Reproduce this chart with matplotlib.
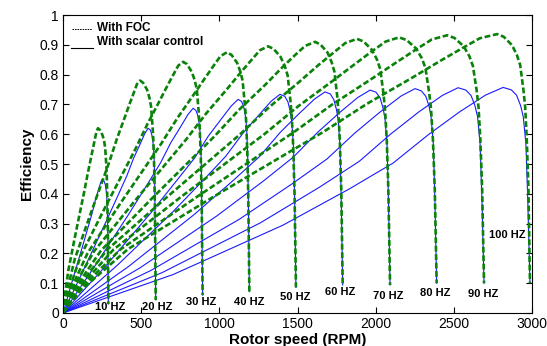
import matplotlib
matplotlib.use("Agg")
import matplotlib.pyplot as plt
from matplotlib.lines import Line2D

plt.rcParams['font.family'] = ['Liberation Sans', 'DejaVu Sans']

# supply frequencies (Hz)
freqs = [10, 20, 30, 40, 50, 60, 70, 80, 90, 100]

# scalar control curves: rotor speed (rpm) / efficiency
sc_rpm = [
    [0, 62, 125, 162, 187, 207, 224, 239, 249, 261, 270, 276, 280, 284, 288, 290],
    [0, 136, 272, 354, 408, 452, 490, 522, 544, 559, 568, 576, 581, 586, 589, 593],
    [0, 208, 416, 541, 624, 691, 749, 799, 832, 850, 862, 872, 878, 884, 888, 893],
    [0, 280, 560, 728, 840, 930, 1008, 1075, 1120, 1142, 1156, 1167, 1174, 1181, 1186, 1192],
    [0, 347, 694, 902, 1041, 1152, 1249, 1332, 1388, 1419, 1439, 1454, 1464, 1475, 1482, 1490],
    [0, 419, 838, 1089, 1257, 1391, 1508, 1609, 1676, 1710, 1732, 1749, 1761, 1772, 1780, 1789],
    [0, 491, 982, 1277, 1473, 1630, 1768, 1885, 1964, 2002, 2028, 2047, 2060, 2073, 2082, 2092],
    [0, 563, 1126, 1464, 1689, 1869, 2027, 2162, 2252, 2293, 2321, 2342, 2355, 2369, 2379, 2390],
    [0, 632, 1264, 1643, 1895, 2097, 2274, 2426, 2527, 2577, 2610, 2635, 2652, 2668, 2680, 2693],
    [0, 704, 1408, 1830, 2111, 2336, 2534, 2702, 2815, 2867, 2901, 2927, 2944, 2961, 2973, 2987],
]
sc_eff = [
    [0, .112, .224, .291, .336, .379, .408, .435, .448, .444, .432, .412, .390, .336, .224, .030],
    [0, .150, .303, .397, .460, .520, .563, .601, .620, .614, .598, .570, .539, .465, .310, .044],
    [0, .161, .328, .433, .504, .573, .622, .666, .687, .680, .663, .632, .598, .515, .344, .060],
    [0, .162, .335, .445, .519, .594, .648, .694, .717, .710, .692, .660, .624, .538, .359, .072],
    [0, .160, .335, .448, .526, .604, .662, .711, .734, .727, .708, .675, .639, .551, .367, .086],
    [0, .156, .330, .445, .525, .607, .668, .718, .742, .735, .716, .683, .646, .557, .371, .094],
    [0, .151, .325, .441, .523, .607, .672, .723, .748, .741, .722, .688, .651, .561, .374, .094],
    [0, .143, .314, .433, .517, .605, .674, .728, .753, .745, .727, .693, .655, .565, .377, .100],
    [0, .135, .303, .423, .509, .601, .674, .730, .756, .748, .730, .696, .658, .567, .378, .100],
    [0, .129, .295, .416, .503, .598, .674, .731, .757, .749, .731, .696, .659, .568, .379, .100],
]

# FOC curves
foc_rpm = [
    [0, 9, 34, 78, 134, 157, 179, 195, 206, 215, 224, 237, 254, 264, 270, 277, 280, 283, 287, 290],
    [0, 20, 74, 173, 296, 345, 394, 429, 454, 473, 493, 513, 538, 553, 563, 573, 578, 583, 588, 593],
    [0, 31, 115, 269, 461, 538, 614, 668, 707, 737, 768, 793, 824, 843, 856, 868, 874, 881, 887, 893],
    [0, 42, 157, 367, 629, 734, 839, 913, 965, 1007, 1049, 1078, 1113, 1135, 1149, 1163, 1171, 1178, 1185, 1192],
    [0, 52, 197, 459, 787, 918, 1050, 1141, 1207, 1260, 1312, 1348, 1392, 1419, 1437, 1454, 1463, 1472, 1481, 1490],
    [0, 64, 242, 564, 967, 1128, 1290, 1402, 1483, 1548, 1612, 1647, 1692, 1718, 1736, 1754, 1762, 1771, 1780, 1789],
    [0, 75, 282, 658, 1129, 1317, 1505, 1636, 1731, 1806, 1881, 1923, 1976, 2008, 2029, 2050, 2060, 2071, 2081, 2092],
    [0, 86, 323, 753, 1290, 1505, 1720, 1871, 1978, 2064, 2150, 2198, 2258, 2294, 2318, 2342, 2354, 2366, 2378, 2390],
    [0, 98, 369, 860, 1474, 1720, 1966, 2138, 2260, 2359, 2457, 2504, 2563, 2599, 2622, 2646, 2658, 2669, 2681, 2693],
    [0, 111, 417, 972, 1666, 1944, 2222, 2416, 2555, 2666, 2777, 2819, 2872, 2903, 2924, 2945, 2956, 2966, 2977, 2987],
]
foc_eff = [
    [0, .050, .143, .260, .403, .465, .521, .561, .589, .611, .620, .614, .595, .574, .552, .496, .459, .391, .279, .030],
    [0, .062, .179, .328, .507, .585, .655, .706, .741, .768, .780, .772, .749, .722, .694, .624, .577, .491, .351, .044],
    [0, .067, .194, .354, .548, .632, .708, .763, .801, .830, .843, .835, .809, .780, .750, .674, .624, .531, .379, .060],
    [0, .070, .201, .368, .569, .656, .735, .792, .831, .862, .875, .866, .840, .809, .779, .700, .648, .551, .394, .072],
    [0, .072, .206, .376, .582, .671, .752, .810, .850, .882, .895, .886, .859, .828, .797, .716, .662, .564, .403, .086],
    [0, .073, .209, .382, .592, .683, .764, .824, .865, .896, .910, .901, .874, .842, .810, .728, .673, .573, .410, .094],
    [0, .074, .212, .386, .598, .690, .773, .833, .874, .906, .920, .911, .883, .851, .819, .736, .681, .580, .414, .094],
    [0, .074, .213, .389, .601, .694, .777, .837, .879, .911, .925, .916, .888, .856, .823, .740, .685, .583, .416, .100],
    [0, .075, .214, .391, .606, .699, .783, .843, .885, .918, .932, .923, .895, .862, .829, .746, .690, .587, .419, .100],
    [0, .075, .215, .393, .608, .702, .786, .847, .889, .922, .936, .927, .899, .866, .833, .749, .693, .590, .421, .100],
]

# frequency label positions (rpm, efficiency)
label_x = [300, 600, 883, 1190, 1484, 1772, 2080, 2380, 2690, 2840]
label_y = [0.02, 0.02, 0.038, 0.037, 0.054, 0.07, 0.058, 0.067, 0.064, 0.263]

fig = plt.figure(figsize=(5.47, 3.46), dpi=100)
ax = fig.add_axes([0.1152, 0.0954, 0.8574, 0.8612])

for x, y in zip(sc_rpm, sc_eff):
    ax.plot(x, y, color='#1a1aff', lw=0.8)
for x, y in zip(foc_rpm, foc_eff):
    ax.plot(x, y, color='#0a820a', lw=1.9, dashes=(2.2, 1.0))

for f, lx, ly in zip(freqs, label_x, label_y):
    ax.text(lx, ly, f'{f} HZ', fontsize=8, fontweight='bold',
            ha='center', va='center')

# legend drawn as in the original (black marks + bold text)
ax.add_line(Line2D([0.019, 0.062], [0.953, 0.953], transform=ax.transAxes,
                   color='black', lw=0.7, dashes=(1.6, 1.0)))
ax.add_line(Line2D([0.017, 0.064], [0.889, 0.889], transform=ax.transAxes,
                   color='black', lw=0.8))
ax.text(0.0725, 0.956, 'With FOC', transform=ax.transAxes, fontsize=8.5,
        fontweight='bold', va='center')
ax.text(0.0725, 0.909, 'With scalar control', transform=ax.transAxes,
        fontsize=8.5, fontweight='bold', va='center')

ax.set_xlim(0, 3000)
ax.set_ylim(0, 1)
ax.set_xticks([0, 500, 1000, 1500, 2000, 2500, 3000])
ax.set_yticks([0, 0.1, 0.2, 0.3, 0.4, 0.5, 0.6, 0.7, 0.8, 0.9, 1])
ax.set_yticklabels(['0', '0.1', '0.2', '0.3', '0.4', '0.5', '0.6', '0.7',
                    '0.8', '0.9', '1'])
ax.tick_params(direction='in', top=True, right=True, length=4, labelsize=10,
               pad=3)
ax.set_xlabel('Rotor speed (RPM)', fontsize=11, fontweight='bold', labelpad=1)
ax.set_ylabel('Efficiency', fontsize=11, fontweight='bold', labelpad=4)

fig.savefig('out.png', dpi=100)
